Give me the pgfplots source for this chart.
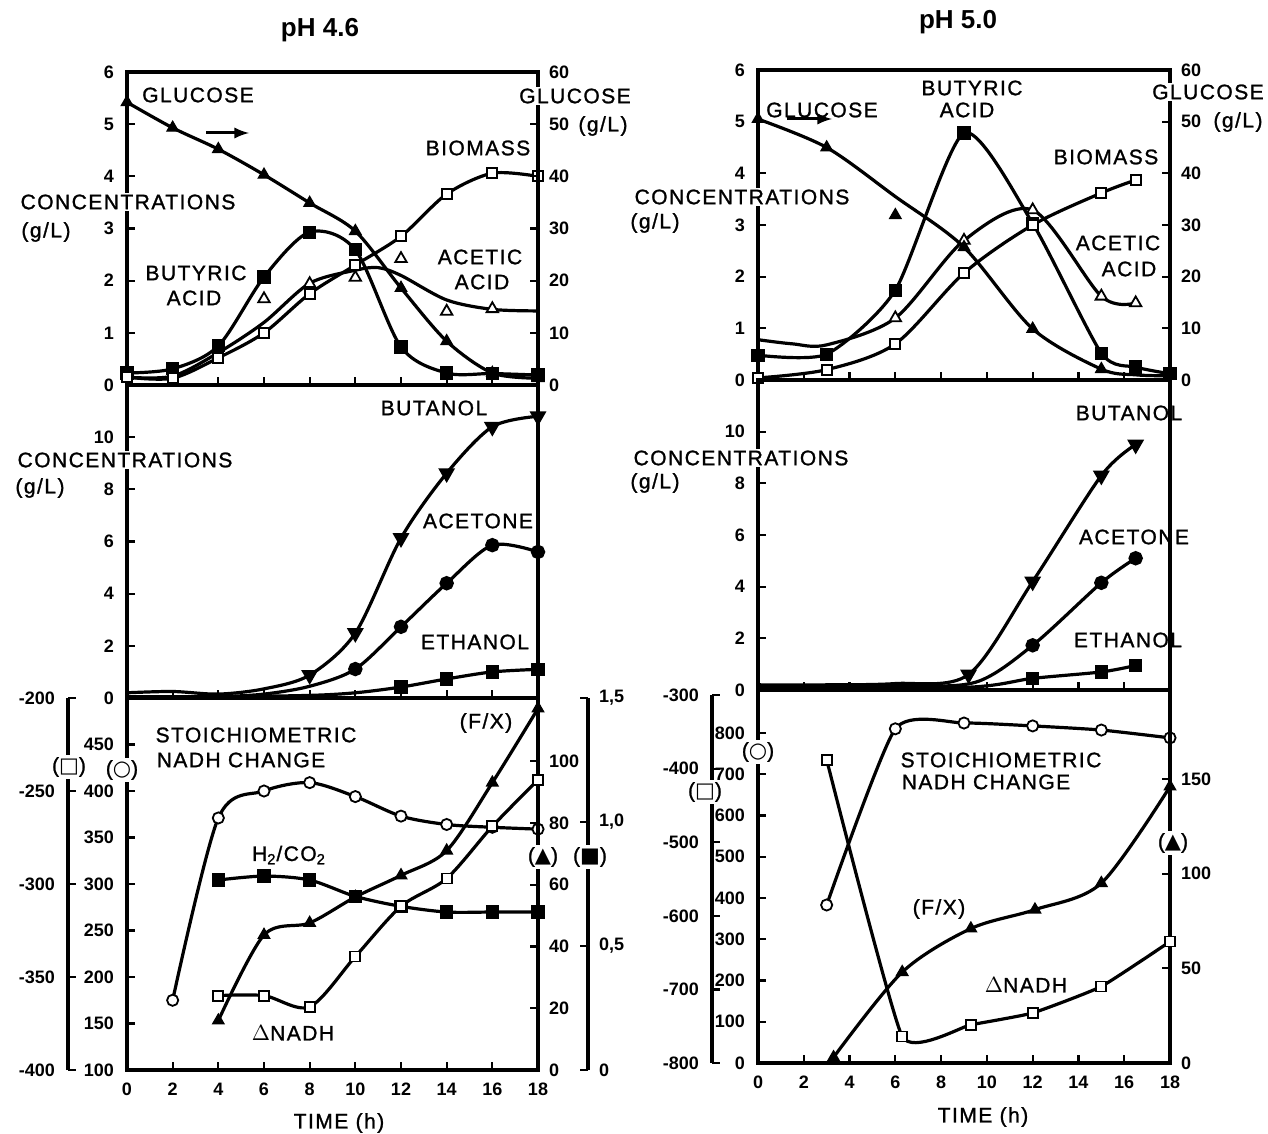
\documentclass[border=0pt]{standalone}
\usepackage{pgfplots}
\pgfplotsset{compat=1.18}
\usepackage{fontspec}
\setmainfont{Liberation Sans}
\newfontfamily\labfont{Liberation Sans}[LetterSpace=7, FakeBold=1.2]
\newfontfamily\sym{DejaVu Sans}
\newcommand{\lab}{\labfont\fontsize{10.5}{12}\selectfont}
\newcommand{\tk}{\fontsize{9}{10}\selectfont\bfseries}

\pgfplotsset{
  base/.style={
    scale only axis, clip=false, anchor=south west,
    xmin=0, xmax=18,
    axis line style={line width=2.3pt},
    tick style={line width=1.1pt, black},
    major tick length=4pt,
    tick align=inside,
    tick label style={font=\tk},
    /pgf/number format/assume math mode=true,
  },
  panel/.style={base,
    xtick={2,4,...,16}, xticklabels={},
    xtick pos=left, ytick pos=left,
    yticklabel shift=3pt,
  },
  rt/.style={base, axis x line=none, axis y line*=right, yticklabel shift=2pt},
  lf/.style={base, axis x line=none, axis y line*=left, yticklabel shift=3pt},
  ln/.style={black, line width=1.6pt, smooth},
  ftri/.style={mark=triangle*, mark size=3.3pt, mark options={solid, fill=black, draw=black, line width=0.6pt}},
  otri/.style={mark=triangle*, mark size=3.3pt, mark options={solid, fill=white, draw=black, line width=0.9pt}},
  dtri/.style={mark=triangle*, mark size=3.3pt, mark options={solid, fill=black, draw=black, rotate=180}},
  fsq/.style={mark=square*, mark size=2.5pt, mark options={solid, fill=black, draw=black}},
  osq/.style={mark=square*, mark size=2.5pt, mark options={solid, fill=white, draw=black, line width=0.9pt}},
  fcir/.style={mark=*, mark size=2.8pt, mark options={solid, fill=black, draw=black}},
  ocir/.style={mark=*, mark size=2.8pt, mark options={solid, fill=white, draw=black, line width=0.9pt}},
}

\begin{document}
\begin{tikzpicture}
\useasboundingbox (0,0) rectangle (634pt,-567pt);

% ================= LEFT COLUMN: pH 4.6 =================
% top panel, acids and biomass (g/L)
\begin{axis}[panel, at={(63.5pt,-192.5pt)}, width=205.5pt, height=156.5pt,
  ymin=0, ymax=6, ytick={0,...,6}]
\addplot[ln, fsq] coordinates {(0,0.23)(2,0.31)(4,0.75)(6,2.07)(8,2.93)(10,2.59)(12,0.73)(14,0.23)(16,0.22)(18,0.19)};
\addplot[ln, no marks] coordinates {(0,0.15)(2,0.17)(4,0.62)(6,1.2)(8,1.95)(10,2.2)(11,2.25)(12,2.1)(14,1.63)(16,1.45)(18,1.42)};
\addplot[only marks, otri] coordinates {(6,1.65)(8,1.94)(10,2.06)(12,2.42)(14,1.41)(16,1.46)};
\addplot[ln, osq] coordinates {(0,0.15)(2,0.13)(4,0.52)(6,1.0)(8,1.75)(10,2.3)(12,2.85)(14,3.66)(16,4.06)(18,4.0)};
\end{axis}
% top panel, glucose (right scale)
\begin{axis}[rt, at={(63.5pt,-192.5pt)}, width=205.5pt, height=156.5pt,
  ymin=0, ymax=60, ytick={0,10,...,60}]
\addplot[ln, ftri] coordinates {(0,54.2)(2,49.3)(4,45.2)(6,40.3)(8,34.9)(10,29.5)(12,18.6)(14,8.4)(16,2.3)(18,1.3)};
\end{axis}
% middle panel, solvents
\begin{axis}[panel, at={(63.5pt,-349pt)}, width=205.5pt, height=156.5pt,
  ymin=0, ymax=12, ytick={0,2,...,10}]
\addplot[ln, dtri, mark indices={5,6,7,8,9,10}] coordinates {(0,0.2)(2,0.25)(4,0.15)(6,0.35)(8,0.88)(10,2.49)(12,6.13)(14,8.62)(16,10.4)(18,10.8)};
\addplot[ln, fcir, mark indices={6,7,8,9,10}] coordinates {(0,0.05)(2,0.05)(4,0.05)(6,0.15)(8,0.45)(10,1.11)(12,2.73)(14,4.4)(16,5.86)(18,5.6)};
\addplot[ln, fsq, mark indices={5,6,7,8}] coordinates {(0,0.05)(4,0.05)(8,0.1)(10,0.2)(12,0.42)(14,0.73)(16,1.0)(18,1.1)};
\end{axis}
% bottom panel, stoichiometric NADH change (O)
\begin{axis}[panel, at={(63.5pt,-535pt)}, width=205.5pt, height=186pt,
  ymin=100, ymax=500, ytick={100,150,...,450},
  xtick={0,2,...,18}, xticklabels={0,2,4,6,8,10,12,14,16,18}, xticklabel shift=3pt]
\addplot[ln, ocir] coordinates {(2,175)(4,371)(6,400)(8,409)(10,394)(12,373)(14,364)(16,361)(18,359)};
\end{axis}
% F/X (triangles)
\begin{axis}[rt, at={(63.5pt,-535pt)}, width=205.5pt, height=186pt,
  ymin=0, ymax=120.4, ytick={0,20,...,100}]
\addplot[ln, ftri] coordinates {(4,16)(6,43.7)(8,47.6)(10,56)(12,63)(14,71)(16,93)(18,117)};
\end{axis}
% H2/CO2 (filled squares), far right scale
\begin{axis}[rt, at={(63.5pt,-535pt)}, width=230.5pt, height=186pt,
  xmax=20.19, ymin=0, ymax=1.5, ytick={0,0.5,1,1.5}, yticklabels={0,{0,5},{1,0},{1,5}}]
\addplot[ln, fsq] coordinates {(4,0.766)(6,0.782)(8,0.766)(10,0.70)(12,0.66)(14,0.637)(16,0.637)(18,0.637)};
\end{axis}
% Delta NADH (open squares), far left scale
\begin{axis}[lf, at={(34pt,-535pt)}, width=235pt, height=186pt,
  xmin=-2.584, ymin=-400, ymax=-200, ytick={-400,-350,...,-200}]
\addplot[ln, osq] coordinates {(4,-360)(6,-360)(8,-366)(10,-339)(12,-312)(14,-297)(16,-269)(18,-244)};
\end{axis}

% ================= RIGHT COLUMN: pH 5.0 =================
\begin{axis}[panel, at={(379pt,-190pt)}, width=206pt, height=155pt,
  ymin=0, ymax=6, ytick={0,...,6}]
\addplot[ln, fsq, tension=0.4] coordinates {(0,0.48)(3,0.50)(6,1.74)(9,4.78)(12,3.03)(15,0.52)(16.5,0.25)(18,0.12)};
\addplot[ln, otri, mark indices={4,5,6,7,8}] coordinates {(0,0.78)(1.5,0.7)(3,0.68)(6,1.2)(9,2.7)(12,3.29)(15,1.62)(16.5,1.49)};
\addplot[ln, osq] coordinates {(0,0.04)(3,0.2)(6,0.7)(9,2.07)(12,3.0)(15,3.62)(16.5,3.87)};
\end{axis}
\begin{axis}[rt, at={(379pt,-190pt)}, width=206pt, height=155pt,
  ymin=0, ymax=60, ytick={0,10,...,60}]
\addplot[ln, no marks] coordinates {(0,50.5)(3,45)(6,35.5)(9,25.7)(12,9.9)(15,2.1)(16.5,1)(18,0.8)};
\addplot[only marks, ftri] coordinates {(0,50.5)(3,45)(6,31.9)(9,25.7)(12,9.9)(15,2.1)};
\end{axis}
\begin{axis}[panel, at={(379pt,-345pt)}, width=206pt, height=155pt,
  ymin=0, ymax=12, ytick={0,2,...,10}]
\addplot[ln, dtri, mark indices={4,5,6,7}] coordinates {(0,0.2)(3,0.2)(6,0.25)(9.2,0.6)(12,4.2)(15,8.3)(16.5,9.5)};
\addplot[ln, fcir, mark indices={4,5,6}] coordinates {(0,0.1)(6,0.15)(9.5,0.3)(12,1.73)(15,4.15)(16.5,5.1)};
\addplot[ln, fsq, mark indices={3,4,5}] coordinates {(0,0.05)(9,0.1)(12,0.45)(15,0.7)(16.5,0.95)};
\end{axis}
\begin{axis}[panel, at={(379pt,-531.5pt)}, width=206pt, height=186.5pt,
  ymin=0, ymax=904, ytick={0,100,...,800},
  xtick={0,2,...,18}, xticklabels={0,2,4,6,8,10,12,14,16,18}, xticklabel shift=3pt]
\addplot[ln, ocir, tension=0.35] coordinates {(3,383)(6,810)(9,824)(12,817)(15,807)(18,788)};
\end{axis}
\begin{axis}[rt, at={(379pt,-531.5pt)}, width=206pt, height=186.5pt,
  ymin=0, ymax=197, ytick={0,50,100,150}]
\addplot[ln, ftri] coordinates {(3.3,3)(6.3,48)(9.3,71)(12.1,81)(15,95)(18,146)};
\end{axis}
\begin{axis}[lf, at={(356pt,-531.5pt)}, width=229pt, height=184pt,
  xmin=-2.01, ymin=-800, ymax=-300, ytick={-800,-700,...,-300}]
\addplot[ln, osq, tension=0.25] coordinates {(3,-388)(6.3,-764)(9.3,-748)(12,-732)(15,-696)(18,-635)};
\end{axis}

% ================= TEXT =================
\node[font=\bfseries\fontsize{13}{15}\selectfont] at (160pt,-15pt) {pH 4.6};
\node[font=\bfseries\fontsize{13}{15}\selectfont] at (479pt,-11pt) {pH 5.0};
\begin{scope}[every node/.style={font=\lab, inner sep=1pt}]
% left column
\node at (99pt,-47.5pt) {GLUCOSE};
\draw[line width=1.5pt, -latex] (103pt,-66.5pt) -- (124.5pt,-66.5pt);
\node[fill=white] at (287.5pt,-48pt) {GLUCOSE};
\node at (301.5pt,-63pt) {(g/L)};
\node at (239pt,-74pt) {BIOMASS};
\node[fill=white] at (64pt,-101pt) {CONCENTRATIONS};
\node at (23pt,-116pt) {(g/L)};
\node at (98pt,-136.5pt) {BUTYRIC};
\node at (97pt,-149pt) {ACID};
\node at (240pt,-128.5pt) {ACETIC};
\node at (241pt,-141pt) {ACID};
\node at (217pt,-204pt) {BUTANOL};
\node[fill=white] at (62.5pt,-230pt) {CONCENTRATIONS};
\node at (20pt,-244pt) {(g/L)};
\node at (239pt,-260.5pt) {ACETONE};
\node at (237.5pt,-321pt) {ETHANOL};
\node at (128pt,-367.5pt) {STOICHIOMETRIC};
\node at (120.5pt,-380pt) {NADH CHANGE};
\node at (243pt,-361.5pt) {(F/X)};
\node at (144.5pt,-427.5pt) {H\textsubscript{2}/CO\textsubscript{2}};
\node at (146.5pt,-516.5pt) {$\Delta$NADH};
\node[fill=white] at (34.5pt,-383.5pt) {({\sym □})};
\node[fill=white] at (61pt,-385pt) {({\sym ○})};
\node[fill=white] at (271.5pt,-428.5pt) {({\sym ▲})};
\node[fill=white] at (295pt,-428.5pt) {({\sym ■})};
\node at (169.5pt,-561.5pt) {TIME (h)};
% right column
\node at (411pt,-55pt) {GLUCOSE};
\draw[line width=1.5pt, -latex] (393.5pt,-59.5pt) -- (416pt,-59.5pt);
\node at (486pt,-44pt) {BUTYRIC};
\node at (483.5pt,-55pt) {ACID};
\node[fill=white] at (604pt,-46pt) {GLUCOSE};
\node at (619pt,-61pt) {(g/L)};
\node at (553pt,-78.5pt) {BIOMASS};
\node[fill=white] at (371pt,-98.5pt) {CONCENTRATIONS};
\node at (327.5pt,-111.5pt) {(g/L)};
\node at (559pt,-121.5pt) {ACETIC};
\node at (564.5pt,-134.5pt) {ACID};
\node at (564.5pt,-206.5pt) {BUTANOL};
\node[fill=white] at (370.5pt,-229pt) {CONCENTRATIONS};
\node at (327.5pt,-241.5pt) {(g/L)};
\node at (567pt,-268.5pt) {ACETONE};
\node at (564pt,-320pt) {ETHANOL};
\node at (500.5pt,-380pt) {STOICHIOMETRIC};
\node at (493pt,-391pt) {NADH CHANGE};
\node at (469.5pt,-454.5pt) {(F/X)};
\node at (513pt,-492.5pt) {$\Delta$NADH};
\node[fill=white] at (379pt,-376pt) {({\sym ○})};
\node[fill=white] at (352.5pt,-396pt) {({\sym □})};
\node[fill=white] at (586.5pt,-421.5pt) {({\sym ▲})};
\node at (491.5pt,-558.5pt) {TIME (h)};
\end{scope}
\end{tikzpicture}
\end{document}
